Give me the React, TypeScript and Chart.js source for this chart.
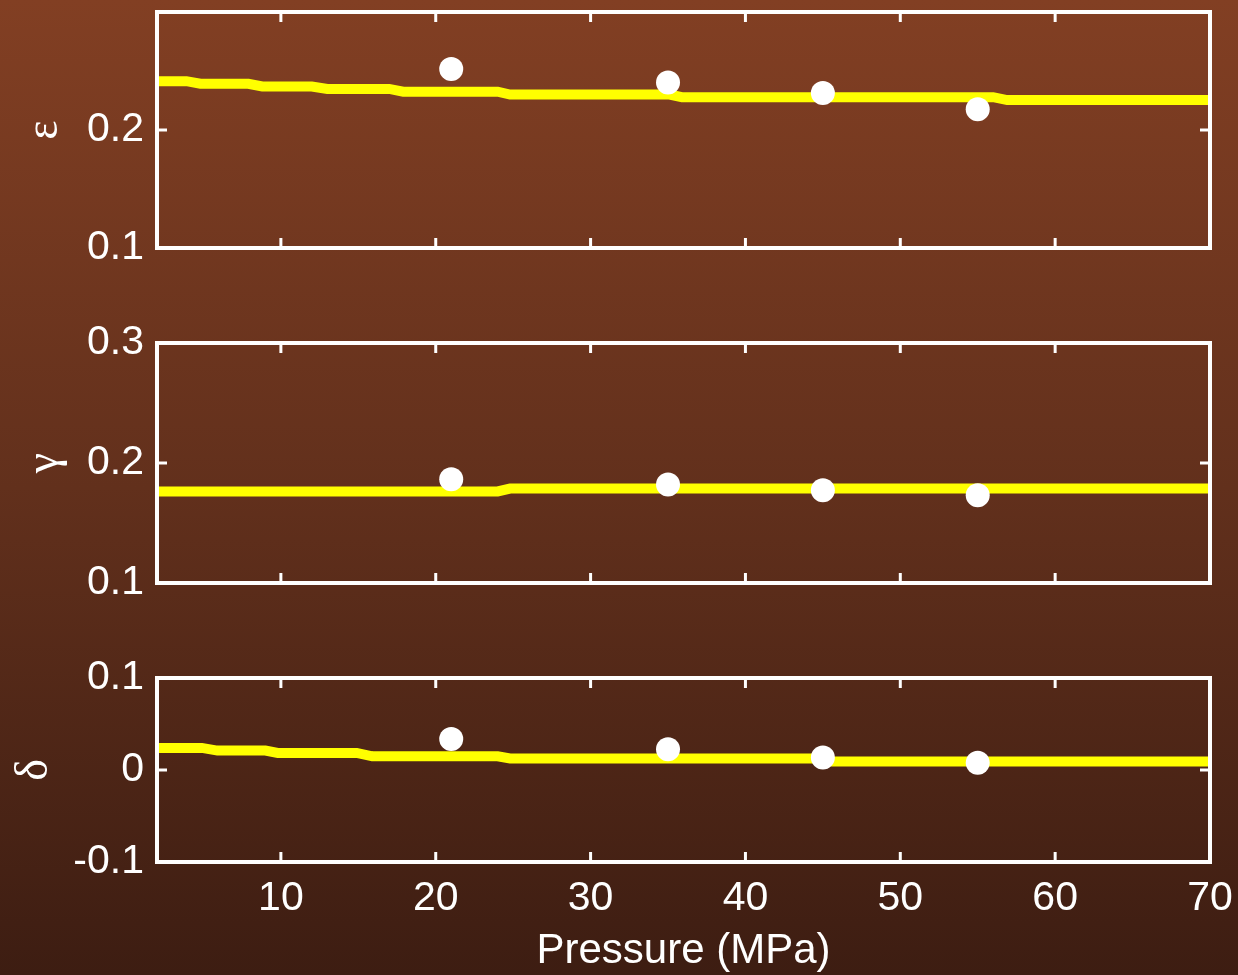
import React, { useEffect, useRef } from 'react';
import { Chart, registerables } from 'chart.js';

Chart.register(...registerables);

// ---- data ----
const X_MIN = 2;
const X_MAX = 70;
const X_TICKS = [10, 20, 30, 40, 50, 60, 70];

const MEAS_P = [21, 35, 45, 55];

const EPS_LINE_P = [2, 3.9, 4.8, 7.9, 8.8, 12, 13, 17, 17.9, 24, 24.8, 35.1, 35.9, 56, 56.9, 70];
const EPS_LINE_V = [0.2414, 0.2414, 0.2392, 0.2392, 0.2369, 0.2369, 0.2348, 0.2348, 0.2325, 0.2325, 0.23, 0.23, 0.2278, 0.2278, 0.2254, 0.2254];
const EPS_MEAS = [0.2517, 0.2403, 0.2313, 0.2175];

const GAM_LINE_P = [2, 24, 24.8, 70];
const GAM_LINE_V = [0.1763, 0.1763, 0.1787, 0.1787];
const GAM_MEAS = [0.1865, 0.1821, 0.1773, 0.1731];

const DEL_LINE_P = [2, 4.9, 5.9, 9, 9.8, 14.9, 15.9, 24, 24.8, 44.8, 45.6, 70];
const DEL_LINE_V = [0.024, 0.024, 0.0211, 0.0211, 0.0186, 0.0186, 0.0149, 0.0149, 0.0126, 0.0126, 0.0092, 0.0092];
const DEL_MEAS = [0.0337, 0.0225, 0.0137, 0.0078];

const EPS_TICKS = [0.1, 0.2, 0.3];
const EPS_TICK_LABELS = [0.1, 0.2];
const GAM_TICKS = [0.1, 0.2, 0.3];
const DEL_TICKS = [-0.1, 0, 0.1];

const W = 1238;
const WHITE = '#ffffff';
const SANS = '"Liberation Sans", Arial, sans-serif';
const SERIF = '"Liberation Serif", "Times New Roman", serif';

const boxPlugin = {
  id: 'box',
  afterDraw(chart: any, _args: any, opts: any) {
    const { ctx, chartArea: a, scales } = chart;
    const TL = 10;
    ctx.save();
    ctx.strokeStyle = WHITE;
    ctx.lineWidth = 3;
    ctx.lineCap = 'butt';
    const seg = (x1: number, y1: number, x2: number, y2: number) => {
      ctx.beginPath();
      ctx.moveTo(x1, y1);
      ctx.lineTo(x2, y2);
      ctx.stroke();
    };
    X_TICKS.forEach((v) => {
      const px = scales.x.getPixelForValue(v);
      if (px > a.left + 3 && px < a.right - 3) {
        seg(px, a.top, px, a.top + TL);
        seg(px, a.bottom, px, a.bottom - TL);
      }
    });
    (opts.yTicks || []).forEach((v: number) => {
      const py = scales.y.getPixelForValue(v);
      if (py > a.top + 3 && py < a.bottom - 3) {
        seg(a.left, py, a.left + TL, py);
        seg(a.right, py, a.right - TL, py);
      }
    });
    ctx.lineWidth = 4;
    ctx.strokeRect(a.left, a.top, a.right - a.left, a.bottom - a.top);
    ctx.restore();
  },
};

type PanelProps = {
  top: number;
  height: number;
  padTop: number;
  padBottom: number;
  showX: boolean;
  yMin: number;
  yMax: number;
  yTicks: number[];
  yLabelTicks: number[];
  title: string;
  titlePad: number;
  lineP: number[];
  lineV: number[];
  meas: number[];
};

function Panel(p: PanelProps) {
  const ref = useRef<HTMLCanvasElement | null>(null);
  useEffect(() => {
    if (!ref.current) return;
    const chart = new Chart(ref.current, {
      type: 'scatter',
      data: {
        datasets: [
          {
            label: 'measured',
            data: MEAS_P.map((x, i) => ({ x, y: p.meas[i] })),
            showLine: false,
            pointRadius: 12,
            pointHoverRadius: 12,
            pointBackgroundColor: WHITE,
            pointBorderWidth: 0,
            backgroundColor: WHITE,
            borderColor: WHITE,
          },
          {
            label: 'model',
            data: p.lineP.map((x, i) => ({ x, y: p.lineV[i] })),
            showLine: true,
            pointRadius: 0,
            pointHoverRadius: 0,
            borderColor: '#ffff00',
            borderWidth: 10,
            borderCapStyle: 'butt',
            borderJoinStyle: 'miter',
            tension: 0,
          },
        ],
      },
      options: {
        responsive: false,
        animation: false,
        events: [],
        layout: { padding: { top: p.padTop, bottom: p.padBottom, left: 0, right: W - 1210 } },
        plugins: {
          legend: { display: false },
          tooltip: { enabled: false },
          box: { yTicks: p.yTicks },
        } as any,
        scales: {
          x: {
            type: 'linear',
            min: X_MIN,
            max: X_MAX,
            display: p.showX,
            afterBuildTicks: (s: any) => {
              s.ticks = X_TICKS.map((v) => ({ value: v }));
            },
            afterFit: (s: any) => {
              if (p.showX) s.height = 113;
              s.paddingLeft = 0;
              s.paddingRight = 0;
            },
            grid: { display: false, drawTicks: false },
            border: { display: false },
            ticks: {
              color: WHITE,
              font: { family: SANS, size: 41 },
              padding: 12,
              maxRotation: 0,
              autoSkip: false,
              callback: (v: any) => String(v),
            },
            title: {
              display: p.showX,
              text: 'Pressure (MPa)',
              color: WHITE,
              font: { family: SANS, size: 42 },
              padding: { top: 0, bottom: -2 },
            },
          },
          y: {
            type: 'linear',
            min: p.yMin,
            max: p.yMax,
            afterBuildTicks: (s: any) => {
              s.ticks = p.yLabelTicks.map((v) => ({ value: v }));
            },
            afterFit: (s: any) => {
              s.width = 157;
              s.paddingTop = 0;
              s.paddingBottom = 0;
            },
            grid: { display: false, drawTicks: false },
            border: { display: false },
            ticks: {
              color: WHITE,
              font: { family: SANS, size: 41 },
              padding: 13,
              autoSkip: false,
              callback: (v: any) => String(Math.round(Number(v) * 10) / 10),
            },
            title: {
              display: true,
              text: p.title,
              color: WHITE,
              font: { family: SERIF, size: 46 },
              padding: { top: p.titlePad, bottom: 0 },
            },
          },
        },
      } as any,
      plugins: [boxPlugin as any],
    });
    return () => chart.destroy();
  }, []);
  return (
    <canvas
      ref={ref}
      width={W}
      height={p.height}
      style={{ position: 'absolute', left: 0, top: p.top, width: W, height: p.height, display: 'block' }}
    />
  );
}

export default function App() {
  return (
    <div
      style={{
        position: 'absolute',
        left: 0,
        top: 0,
        width: W,
        height: 975,
        overflow: 'hidden',
        background: 'linear-gradient(to bottom, #823f23 0%, #62301c 50%, #3d1d12 100%)',
      }}
    >
      <Panel
        top={0}
        height={300}
        padTop={8}
        padBottom={300 - 248}
        showX={false}
        yMin={0.1}
        yMax={0.3}
        yTicks={EPS_TICKS}
        yLabelTicks={EPS_TICK_LABELS}
        title="ε"
        titlePad={17}
        lineP={EPS_LINE_P}
        lineV={EPS_LINE_V}
        meas={EPS_MEAS}
      />
      <Panel
        top={300}
        height={320}
        padTop={343 - 300}
        padBottom={620 - 583}
        showX={false}
        yMin={0.1}
        yMax={0.3}
        yTicks={GAM_TICKS}
        yLabelTicks={GAM_TICKS}
        title="γ"
        titlePad={17}
        lineP={GAM_LINE_P}
        lineV={GAM_LINE_V}
        meas={GAM_MEAS}
      />
      <Panel
        top={620}
        height={355}
        padTop={678 - 620}
        padBottom={0}
        showX={true}
        yMin={-0.1}
        yMax={0.1}
        yTicks={DEL_TICKS}
        yLabelTicks={DEL_TICKS}
        title="δ"
        titlePad={7}
        lineP={DEL_LINE_P}
        lineV={DEL_LINE_V}
        meas={DEL_MEAS}
      />
    </div>
  );
}
